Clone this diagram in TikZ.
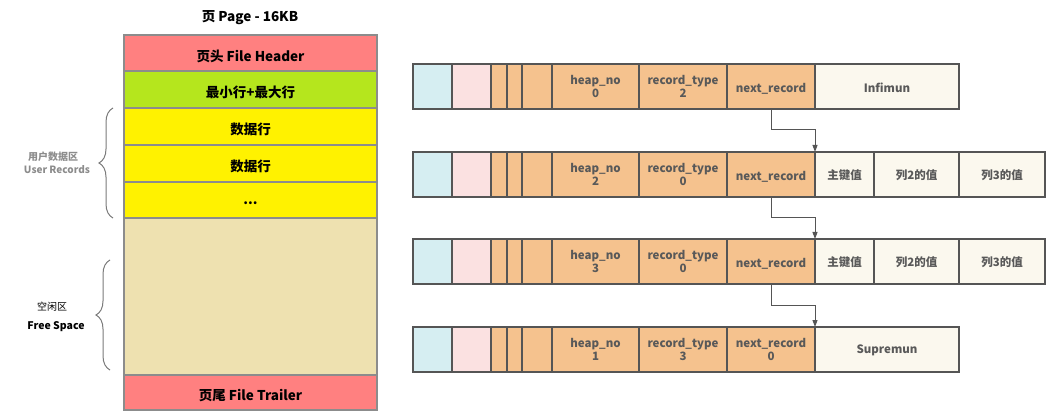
\documentclass[tikz,border=0pt]{standalone}
\usepackage{fontspec}
\setmainfont{Noto Sans CJK SC}
\usetikzlibrary{arrows.meta,decorations.pathreplacing}
\definecolor{cblue}{HTML}{D6EEF2}
\definecolor{cpink}{HTML}{FBE1E1}
\definecolor{corange}{HTML}{F5C28E}
\definecolor{ccream}{HTML}{FBF8EE}
\definecolor{textgray}{HTML}{595959}
\definecolor{linegray}{HTML}{555555}
\definecolor{lred}{HTML}{FF8080}
\definecolor{lgreen}{HTML}{B5E61D}
\definecolor{lyellow}{HTML}{FFF200}
\definecolor{ltan}{HTML}{EEE1B0}
\definecolor{laygray}{HTML}{8C8C8C}
\definecolor{bracegray}{HTML}{7A7A7A}
\newcommand\lowr[2]{\raisebox{-#1}[\height][\depth]{#2}}
\newcommand\rcell[6]{\node[cell, fill=#5, minimum width={#3pt-#2pt}] (#1) at (#2,#4) {#6};}
\newcommand\recrow[5]{%
 \rcell{r#1a}{413}{452}{#2}{cblue}{}
 \rcell{r#1b}{452}{491}{#2}{cpink}{}
 \rcell{r#1c}{491}{507}{#2}{corange}{}
 \rcell{r#1d}{507}{522}{#2}{corange}{}
 \rcell{r#1e}{522}{552}{#2}{corange}{}
 \rcell{r#1f}{552}{639}{#2}{corange}{heap\_no\\#3}
 \rcell{r#1g}{639}{727}{#2}{corange}{record\_type\\#4}
 \rcell{r#1h}{727}{815}{#2}{corange}{#5}}
\newcommand\layer[5]{\node[lay, fill=#4, minimum height=#3pt] (#1) at (124,#2) {\lowr{3pt}{#5}};}
\begin{document}
\begin{tikzpicture}[x=1pt,y=-1pt,
  cell/.style={draw=linegray, line width=1.1pt, anchor=north west, inner sep=0pt, outer sep=0pt,
    minimum height=45pt, text=textgray, font=\fontsize{11.5}{13}\selectfont\bfseries, align=center},
  lay/.style={draw=laygray, line width=1.5pt, anchor=north west, inner sep=0pt, outer sep=0pt,
    minimum width=253pt, font=\fontsize{13.5}{15}\selectfont\bfseries},
  arr/.style={draw=linegray, line width=1pt, -{Triangle[width=5pt,length=7pt]}},
  brc/.style={draw=bracegray, line width=1pt, decorate, decoration={brace, amplitude=14pt}},
  lbl/.style={font=\fontsize{10}{12}\selectfont\bfseries, inner sep=0pt}]
\useasboundingbox (0,0) rectangle (1059,411);
% left page layout
\node[font=\fontsize{13.5}{15}\selectfont\bfseries] (title) at (250,18) {页 Page - 16KB};
\layer{L1}{35}{36}{lred}{页头 File Header}
\layer{L2}{71}{37}{lgreen}{最小行+最大行}
\layer{L3}{108}{37}{lyellow}{数据行}
\layer{L4}{145}{37}{lyellow}{数据行}
\layer{L5}{182}{36}{lyellow}{...}
\layer{L6}{218}{157}{ltan}{}
\layer{L7}{375}{35}{lred}{页尾 File Trailer}
% braces
\coordinate (b1s) at (113,218);
\coordinate (b1e) at (113,108);
\draw[brc] (b1s) -- (b1e);
\coordinate (b2s) at (110,370);
\coordinate (b2e) at (110,260);
\draw[brc] (b2s) -- (b2e);
\node[lbl, text=laygray] (ur1) at (53,157) {用户数据区};
\node[lbl, text=laygray] (ur2) at (57,170) {User Records};
\node[lbl, font=\fontsize{10}{12}\selectfont] (fs1) at (52,307) {空闲区};
\node[lbl, font=\fontsize{10.5}{12}\selectfont\bfseries] (fs2) at (56,327) {Free Space};
% records
\recrow{1}{64}{0}{2}{\lowr{2pt}{next\_record}}
\rcell{r1i}{815}{959}{64}{ccream}{\lowr{1pt}{Infimun}}
\recrow{2}{152}{2}{0}{\lowr{2pt}{next\_record}}
\rcell{r2i}{815}{874}{152}{ccream}{\lowr{1pt}{主键值}}
\rcell{r2j}{874}{959}{152}{ccream}{\lowr{1pt}{列2的值}}
\rcell{r2k}{959}{1045}{152}{ccream}{\lowr{1pt}{列3的值}}
\recrow{3}{239}{3}{0}{\lowr{2pt}{next\_record}}
\rcell{r3i}{815}{874}{239}{ccream}{\lowr{1pt}{主键值}}
\rcell{r3j}{874}{959}{239}{ccream}{\lowr{1pt}{列2的值}}
\rcell{r3k}{959}{1045}{239}{ccream}{\lowr{1pt}{列3的值}}
\recrow{4}{327}{1}{3}{next\_record\\0}
\rcell{r4i}{815}{959}{327}{ccream}{\lowr{1pt}{Supremun}}
% pointers
\draw[arr] (r1h.south) -- ++(0,21) -| (r2i.north west);
\draw[arr] (r2h.south) -- ++(0,21) -| (r3i.north west);
\draw[arr] (r3h.south) -- ++(0,22) -| (r4i.north west);
\end{tikzpicture}
\end{document}
